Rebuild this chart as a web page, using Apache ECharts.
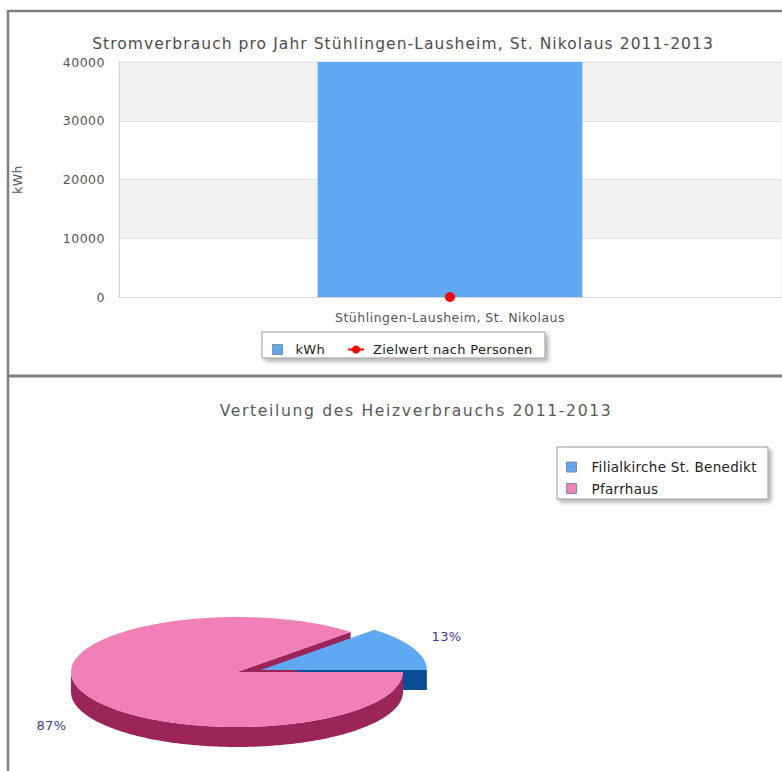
<!DOCTYPE html>
<html><head><meta charset="utf-8">
<script src="https://cdn.jsdelivr.net/npm/echarts@6/dist/echarts.min.js"></script>
<style>
html,body{margin:0;padding:0;background:#fff}
#c{width:782px;height:771px}
#c text[style*="15.5px"]{letter-spacing:1.07px}
#c text[style*="15.6px"]{letter-spacing:1.65px}
#c text[style*="12.5px"]{letter-spacing:0.5px}
#c text[style*="13px"]{letter-spacing:0.3px}
#c text[style*="13.5px"]{letter-spacing:0.3px}
</style>
</head><body><div id="c"></div>
<script>
// ---- data ----
const barCategories = ['Stühlingen-Lausheim, St. Nikolaus'];
const kwhValues = [46000];
const targetValues = [0];
const yTicks = [0, 10000, 20000, 30000, 40000];
const pieNames = ['Filialkirche St. Benedikt', 'Pfarrhaus'];
const pieValues = [13, 87];

// ---- styling / geometry ----
const FONT = 'DejaVu Sans';
const pieTop = ['#5fa9f2', '#f080b6'];
const pieSide = ['#0a4f96', '#9b2459'];
const explode = [26, 0];
const P = { cx: 237, cy: 672, rx: 166, ry: 55, depth: 20 };

function sliceAngles() {
  const total = pieValues.reduce((a, b) => a + b, 0);
  let a = 0;
  return pieValues.map(v => { const a0 = a; a += v / total * 360; return { a0, a1: a, pct: v / total }; });
}
function pt(cx, cy, deg, dy) {
  const r = deg * Math.PI / 180;
  return [cx + P.rx * Math.cos(r), cy - P.ry * Math.sin(r) + dy];
}
function arc(cx, cy, from, to, dy) {
  const pts = [];
  const n = Math.max(2, Math.ceil(Math.abs(to - from)));
  for (let k = 0; k <= n; k++) pts.push(pt(cx, cy, from + (to - from) * k / n, dy));
  return pts;
}
function renderSlice(i) {
  const s = sliceAngles()[i];
  const mid = (s.a0 + s.a1) / 2 * Math.PI / 180;
  const ox = explode[i] * Math.cos(mid);
  const oy = -explode[i] * Math.sin(mid) * P.ry / P.rx * 0.6;
  const cx = P.cx + ox, cy = P.cy + oy, d = P.depth;
  const children = [];
  const faces = [[s.a0, s.a0 - 90], [s.a1, s.a1 + 90]];
  faces.forEach(([a, n]) => {
    if (Math.sin(n * Math.PI / 180) < -1e-6) {
      const p = pt(cx, cy, a, 0);
      children.push({ type: 'polygon', z2: 1, shape: { points: [[cx, cy], p, [p[0], p[1] + d], [cx, cy + d]] }, style: { fill: pieSide[i] } });
    }
  });
  const lo = Math.max(s.a0, 180), hi = Math.min(s.a1, 360);
  if (hi > lo) {
    const pts = arc(cx, cy, lo, hi, 0).concat(arc(cx, cy, hi, lo, d));
    children.push({ type: 'polygon', z2: 2, shape: { points: pts }, style: { fill: pieSide[i] } });
  }
  children.push({ type: 'polygon', z2: 3, shape: { points: [[cx, cy]].concat(arc(cx, cy, s.a0, s.a1, 0)) }, style: { fill: pieTop[i] } });
  const c = Math.cos(mid), sn = Math.sin(mid);
  const lx = cx + (P.rx + 20) * c;
  const ly = cy - 1.55 * P.ry * sn + (sn < 0 ? d : 0);
  children.push({ type: 'text', z2: 4, x: lx, y: ly, style: {
    text: Math.round(s.pct * 100) + '%', fill: '#3a3a9a', font: '13px "' + FONT + '"',
    align: c >= 0 ? 'left' : 'right', verticalAlign: 'middle' } });
  return { type: 'group', children };
}

const chart = echarts.init(document.getElementById('c'), null, { renderer: 'svg' });
const frame = '#808080';
chart.setOption({
  animation: false,
  textStyle: { fontFamily: FONT },
  grid: { left: 119, right: 1, top: 62, bottom: 474, show: true, borderColor: '#e3e3e3', borderWidth: 1 },
  xAxis: {
    type: 'category', data: barCategories,
    axisTick: { show: false },
    axisLine: { lineStyle: { color: '#d4d4d4' } },
    axisLabel: { color: '#555', fontSize: 12.5, margin: 14 }
  },
  yAxis: {
    type: 'value', min: yTicks[0], max: yTicks[yTicks.length - 1], interval: yTicks[1] - yTicks[0],
    name: 'kWh', nameLocation: 'middle', nameGap: 95,
    nameTextStyle: { color: '#555', fontSize: 12.5 },
    axisLine: { show: true, lineStyle: { color: '#d8d8d8' } },
    axisTick: { show: false },
    axisLabel: { color: '#555', fontSize: 12.5, margin: 14, formatter: v => String(v) },
    splitLine: { lineStyle: { color: '#e3e3e3' } },
    splitArea: { show: true, areaStyle: { color: ['#ffffff', '#f2f2f2'] } }
  },
  legend: [
    { data: ['kWh'], left: 267, top: 338, itemWidth: 10, itemHeight: 10, icon: 'rect',
      itemStyle: { borderColor: '#8090a0', borderWidth: 1 },
      textStyle: { color: '#222', fontSize: 13, padding: [0, 0, 0, 8] } },
    { data: ['Zielwert nach Personen'], left: 342, top: 338, itemWidth: 16, itemHeight: 10,
      textStyle: { color: '#222', fontSize: 13, padding: [0, 0, 0, 4] } },
    { data: pieNames, orient: 'vertical', left: 561, top: 455, itemWidth: 10, itemHeight: 10, itemGap: 7.5, icon: 'rect',
      itemStyle: { borderColor: '#8a8a9a', borderWidth: 1 },
      textStyle: { color: '#222', fontSize: 13.5, padding: [0, 0, 0, 10] } }
  ],
  graphic: [
    { type: 'rect', shape: { x: 262, y: 332, width: 283, height: 26 }, style: { fill: '#fff', stroke: '#9a9a9a', lineWidth: 1, shadowBlur: 4, shadowOffsetX: 3, shadowOffsetY: 3, shadowColor: 'rgba(0,0,0,0.3)' } },
    { type: 'rect', shape: { x: 557, y: 447, width: 211, height: 52 }, style: { fill: '#fff', stroke: '#9a9a9a', lineWidth: 1, shadowBlur: 4, shadowOffsetX: 3, shadowOffsetY: 3, shadowColor: 'rgba(0,0,0,0.3)' } },
    { type: 'line', shape: { x1: 8, y1: 10, x2: 8, y2: 771 }, style: { stroke: frame, lineWidth: 2.5 } },
    { type: 'line', shape: { x1: 7, y1: 11, x2: 782, y2: 11 }, style: { stroke: frame, lineWidth: 2.5 } },
    { type: 'line', shape: { x1: 7, y1: 376, x2: 782, y2: 376 }, style: { stroke: frame, lineWidth: 3 } },
    { type: 'text', x: 403, y: 44, style: { text: 'Stromverbrauch pro Jahr Stühlingen-Lausheim, St. Nikolaus 2011-2013', fill: '#4d4d4d', font: '15.5px "' + FONT + '"', align: 'center', verticalAlign: 'middle' } },
    { type: 'text', x: 416, y: 411, style: { text: 'Verteilung des Heizverbrauchs 2011-2013', fill: '#595959', font: '15.6px "' + FONT + '"', align: 'center', verticalAlign: 'middle' } }
  ],
  series: [
    { name: 'kWh', type: 'bar', data: kwhValues, barWidth: '40%', itemStyle: { color: '#5fa8f3' } },
    { name: 'Zielwert nach Personen', type: 'line', data: targetValues, symbol: 'circle', symbolSize: 10,
      itemStyle: { color: '#ff0000' }, lineStyle: { color: '#ff0000', width: 1 } },
    { name: pieNames[0], type: 'custom', coordinateSystem: 'none', data: [pieValues[0]], itemStyle: { color: pieTop[0] },
      renderItem: () => renderSlice(0) },
    { name: pieNames[1], type: 'custom', coordinateSystem: 'none', data: [pieValues[1]], itemStyle: { color: pieTop[1] },
      renderItem: () => renderSlice(1) }
  ]
});
</script></body></html>
